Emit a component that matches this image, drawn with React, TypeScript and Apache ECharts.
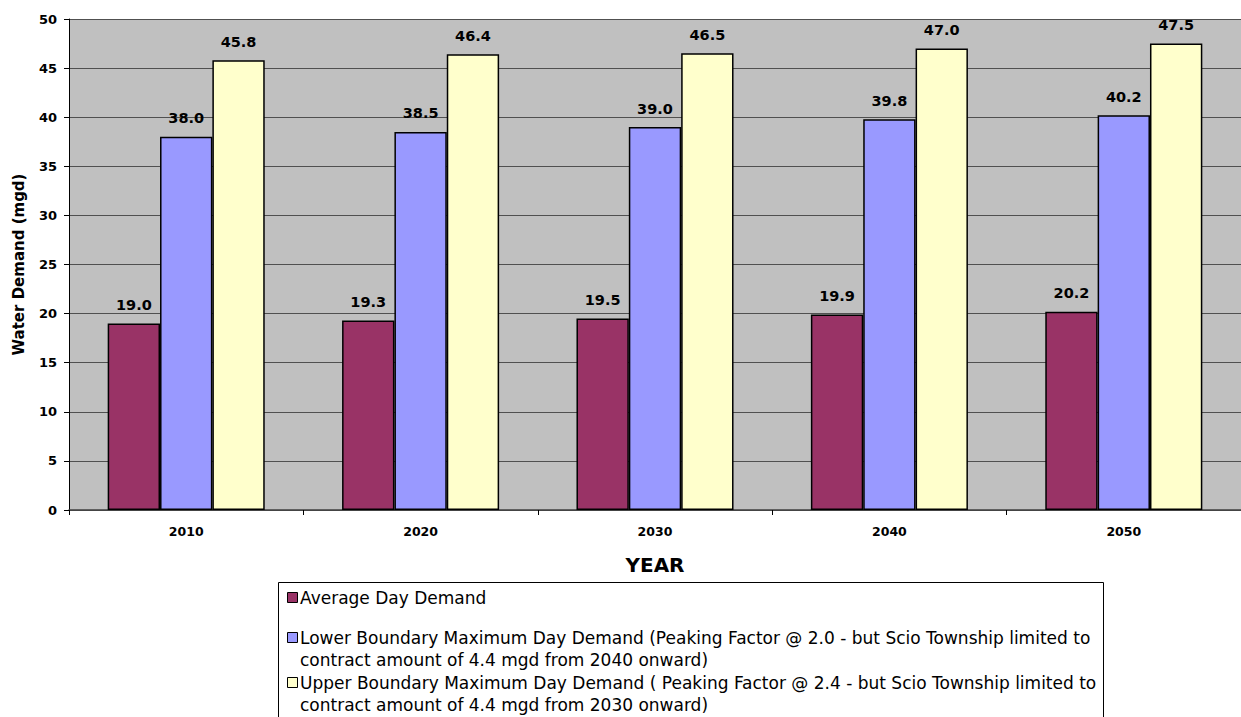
import React, { useEffect, useRef } from "react";
import * as echarts from "echarts";

const years = ["2010", "2020", "2030", "2040", "2050"];
const averageDay = [19.0, 19.3, 19.5, 19.9, 20.2];
const lowerMaxDay = [38.0, 38.5, 39.0, 39.8, 40.2];
const upperMaxDay = [45.8, 46.4, 46.5, 47.0, 47.5];

const seriesNames = [
  "Average Day Demand",
  "Lower Boundary Maximum Day Demand (Peaking Factor @ 2.0 - but Scio Township limited to\ncontract amount of 4.4 mgd from 2040 onward)",
  "Upper Boundary Maximum Day Demand ( Peaking Factor @ 2.4 - but Scio Township limited to\ncontract amount of 4.4 mgd from 2030 onward)",
];
const colors = ["#993366", "#9999FF", "#FFFFCC"];

const FONT = "'DejaVu Sans', sans-serif";

export default function App() {
  const ref = useRef<HTMLDivElement>(null);
  useEffect(() => {
    if (!ref.current) return;
    const chart = echarts.init(ref.current, undefined, { renderer: "svg" });
    const dataSets = [averageDay, lowerMaxDay, upperMaxDay];

    const legendLines: { marker: boolean; color?: string; text: string; y: number }[] = [];
    const lineStarts = [598, 638, 683];
    seriesNames.forEach((n, i) => {
      const parts = n.split("\n");
      parts.forEach((p, j) => {
        legendLines.push({ marker: j === 0, color: colors[i], text: p, y: lineStarts[i] + j * 22 });
      });
    });

    const graphics: any[] = [
      {
        type: "rect",
        shape: { x: 278.5, y: 582.5, width: 825, height: 200 },
        style: { fill: "#FFFFFF", stroke: "#000000", lineWidth: 1 },
        silent: true,
      },
    ];
    legendLines.forEach((l) => {
      if (l.marker) {
        graphics.push({
          type: "rect",
          shape: { x: 287.5, y: l.y - 5.5, width: 10, height: 10 },
          style: { fill: l.color, stroke: "#000000", lineWidth: 1 },
          silent: true,
        });
      }
      graphics.push({
        type: "text",
        x: 300,
        y: l.y,
        style: {
          text: l.text,
          fontFamily: FONT,
          fontSize: 17,
          fill: "#000000",
          verticalAlign: "middle",
          align: "left",
        },
        silent: true,
      });
    });

    chart.setOption({
      animation: false,
      backgroundColor: "#FFFFFF",
      grid: {
        left: 69,
        top: 19,
        width: 1185,
        height: 491,
        show: true,
        backgroundColor: "#C0C0C0",
        borderWidth: 0,
      },
      xAxis: {
        type: "category",
        data: years,
        name: "YEAR",
        nameLocation: "middle",
        nameGap: 45,
        nameTextStyle: { fontFamily: FONT, fontWeight: "bold", fontSize: 20, color: "#000" },
        axisLine: { show: true, lineStyle: { color: "#404040", width: 1.5 } },
        axisTick: { show: true, alignWithLabel: false, length: 5, lineStyle: { color: "#000" } },
        axisLabel: { fontFamily: FONT, fontWeight: "bold", fontSize: 12.5, color: "#000", margin: 15 },
        splitLine: { show: false },
      },
      yAxis: {
        type: "value",
        min: 0,
        max: 50,
        interval: 5,
        name: "Water Demand (mgd)",
        nameLocation: "middle",
        nameGap: 43,
        nameTextStyle: { fontFamily: FONT, fontWeight: "bold", fontSize: 15, color: "#000" },
        axisLine: { show: true, lineStyle: { color: "#000", width: 1 } },
        axisTick: { show: true, length: 5, lineStyle: { color: "#000" } },
        axisLabel: { fontFamily: FONT, fontWeight: "bold", fontSize: 13, color: "#000", margin: 12 },
        splitLine: { show: true, lineStyle: { color: "#505050", width: 1 } },
      },
      series: dataSets.map((d, i) => ({
        type: "bar",
        name: seriesNames[i],
        data: d,
        barGap: "0%",
        barCategoryGap: "33%",
        itemStyle: { color: colors[i], borderColor: "#000000", borderWidth: 1.5 },
        label: {
          show: true,
          position: "top",
          distance: 11,
          formatter: (p: any) => Number(p.value).toFixed(1),
          fontFamily: FONT,
          fontWeight: "bold",
          fontSize: 14.5,
          color: "#000",
        },
      })),
      graphic: graphics,
    });
    return () => chart.dispose();
  }, []);
  return (
    <div
      ref={ref}
      style={{ position: "fixed", left: 0, top: 0, width: 1241, height: 717 }}
    />
  );
}
